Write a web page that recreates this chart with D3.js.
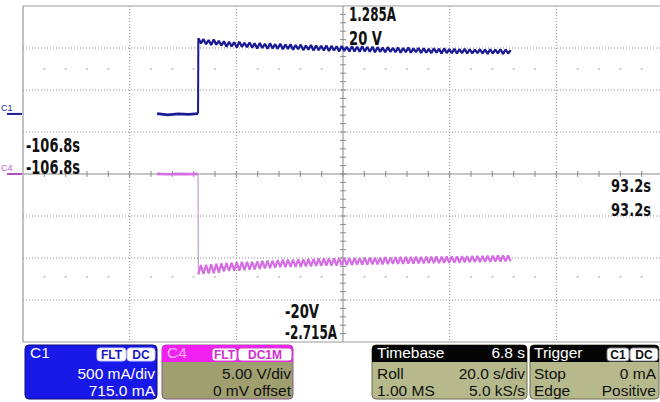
<!DOCTYPE html>
<html>
<head>
<meta charset="utf-8">
<script src="https://cdn.jsdelivr.net/npm/d3@7"></script>
<style>
  html, body { margin: 0; padding: 0; background: #fff; }
  svg { display: block; }
  .big { font-family: "Liberation Sans Narrow", "DejaVu Sans Condensed", "Liberation Sans", sans-serif; font-weight: bold; font-size: 19px; fill: #111; }
  .panel { font-family: "Liberation Sans", Arial, sans-serif; font-size: 15.5px; }
  .badge { font-family: "Liberation Sans", Arial, sans-serif; font-size: 12px; font-weight: bold; }
</style>
</head>
<body>
<svg id="scope" width="660" height="402"></svg>
<script>
// Acquisition window and channel ranges
const timeRange = [-106.8, 93.2];   // s, left edge to right edge
const c1Range = [-2.715, 1.285];    // A, bottom to top (500 mA/div, 715 mA offset)
const c4Range = [-20, 20];          // V, bottom to top (5 V/div)
const sampleStep = 0.8;             // s between stored samples after the step
const stepStart = -52.0;            // s, first sample after the step

// C1 current before the step (A)
const c1PreTimes  = [-64.9, -61.6, -58.3, -55.1, -52.1];
const c1PreValues = [0.005, -0.01, 0.0, -0.006, 0.004];

// C1 current after the step (A), one value per sample
const c1Values = [
  0.90, 0.84, 0.89, 0.83, 0.88, 0.82, 0.885, 0.825, 0.87, 0.815,
  0.865, 0.80, 0.86, 0.805, 0.855, 0.79, 0.86, 0.80, 0.845, 0.795,
  0.85, 0.79, 0.84, 0.78, 0.845, 0.785, 0.835, 0.775, 0.84, 0.78,
  0.83, 0.775, 0.835, 0.77, 0.825, 0.775, 0.83, 0.765, 0.82, 0.77,
  0.825, 0.76, 0.815, 0.765, 0.82, 0.755, 0.815, 0.76, 0.81, 0.755,
  0.815, 0.75, 0.81, 0.755, 0.805, 0.745, 0.81, 0.75, 0.80, 0.745,
  0.805, 0.745, 0.80, 0.74, 0.805, 0.745, 0.795, 0.74, 0.80, 0.735,
  0.795, 0.74, 0.79, 0.735, 0.795, 0.74, 0.785, 0.735, 0.79, 0.73,
  0.785, 0.735, 0.79, 0.73, 0.78, 0.735, 0.785, 0.725, 0.78, 0.73,
  0.775, 0.725, 0.78, 0.73, 0.775, 0.72, 0.78, 0.725, 0.77, 0.725,
  0.775, 0.72, 0.77, 0.725, 0.775, 0.72, 0.77, 0.72, 0.765, 0.725,
  0.77, 0.72, 0.765, 0.715, 0.77, 0.72, 0.765, 0.72, 0.77, 0.715,
  0.765, 0.72, 0.76
];

// C4 voltage before the step (V)
const c4PreTimes  = [-64.9, -61.6, -58.3, -55.1, -52.1];
const c4PreValues = [0.02, -0.03, 0.02, -0.02, 0.0];

// C4 voltage after the step (V), one value per sample
const c4Values = [
  -11.95, -10.85, -11.9, -10.8, -11.85, -10.75, -11.8, -10.7, -11.75, -10.65,
  -11.6, -10.6, -11.55, -10.55, -11.5, -10.5, -11.5, -10.45, -11.45, -10.45,
  -11.4, -10.45, -11.35, -10.4, -11.3, -10.35, -11.25, -10.3, -11.2, -10.3,
  -11.15, -10.25, -11.1, -10.2, -11.1, -10.2, -11.05, -10.2, -11.05, -10.15,
  -11.05, -10.15, -11.0, -10.1, -11.0, -10.1, -10.95, -10.05, -10.95, -10.05,
  -10.92, -10.05, -10.9, -10.05, -10.9, -10.0, -10.85, -10.05, -10.85, -10.0,
  -10.85, -10.0, -10.8, -9.98, -10.8, -9.95, -10.8, -9.95, -10.75, -9.95,
  -10.75, -9.95, -10.75, -9.9, -10.72, -9.92, -10.7, -9.9, -10.7, -9.88,
  -10.7, -9.88, -10.68, -9.88, -10.66, -9.85, -10.65, -9.86, -10.64, -9.84,
  -10.62, -9.85, -10.62, -9.82, -10.6, -9.83, -10.58, -9.82, -10.58, -9.8,
  -10.55, -9.8, -10.55, -9.78, -10.52, -9.78, -10.5, -9.76, -10.5, -9.75,
  -10.48, -9.75, -10.46, -9.72, -10.45, -9.72, -10.44, -9.7, -10.42, -9.7,
  -10.4, -9.7, -10.38
];

// On-screen readouts
const c1EdgeLabels = ["1.285A", "-2.715A"];
const c4EdgeLabels = ["20 V", "-20V"];
const timeEdgeLabels = ["-106.8s", "93.2s"];

// Status panels below the graticule
const c1Panel = { title: "C1", badges: ["FLT", "DC"], rows: ["500 mA/div", "715.0 mA"] };
const c4Panel = { title: "C4", badges: ["FLT", "DC1M"], rows: ["5.00 V/div", "0 mV offset"] };
const timebasePanel = { title: "Timebase", value: "6.8 s", rows: [["Roll", "20.0 s/div"], ["1.00 MS", "5.0 kS/s"]] };
const triggerPanel = { title: "Trigger", badges: ["C1", "DC"], rows: [["Stop", "0 mA"], ["Edge", "Positive"]] };

// ---------------------------------------------------------------------------
const svg = d3.select("#scope");
const plot = { left: 23, right: 663, top: 6, bottom: 342 };
const xDivs = 6, yDivs = 8;

const x = d3.scaleLinear().domain(timeRange).range([plot.left, plot.right]);
const yC1 = d3.scaleLinear().domain(c1Range).range([plot.bottom, plot.top]);
const yC4 = d3.scaleLinear().domain(c4Range).range([plot.bottom, plot.top]);
const xDiv = d3.scaleLinear().domain([0, xDivs]).range([plot.left, plot.right]);
const yDiv = d3.scaleLinear().domain([0, yDivs]).range([plot.top, plot.bottom]);

const grid = svg.append("g");
const gridColor = "#8c8c8c";

// dotted graticule
d3.range(1, xDivs).forEach(i => {
  if (i === xDivs / 2) return;
  grid.append("line").attr("x1", xDiv(i)).attr("x2", xDiv(i))
    .attr("y1", plot.top).attr("y2", plot.bottom)
    .attr("stroke", gridColor).attr("stroke-width", 1).attr("stroke-dasharray", "1,2");
});
d3.range(1, yDivs).forEach(i => {
  if (i === yDivs / 2) return;
  grid.append("line").attr("x1", plot.left).attr("x2", 660)
    .attr("y1", yDiv(i)).attr("y2", yDiv(i))
    .attr("stroke", gridColor).attr("stroke-width", 1).attr("stroke-dasharray", "1,2");
});

// minor dash rows half a division above/below the outer lines
[1.5, 6.45].forEach(r => {
  d3.range(0, xDivs * 5 + 1).forEach(k => {
    if (k % 5 === 0) return;
    const px = xDiv(k / 5);
    grid.append("line").attr("x1", px - 1).attr("x2", px + 1)
      .attr("y1", yDiv(r)).attr("y2", yDiv(r))
      .attr("stroke", "#a0a0a0").attr("stroke-width", 1);
  });
});

// frame
grid.append("line").attr("x1", plot.left).attr("x2", 660).attr("y1", plot.top).attr("y2", plot.top)
  .attr("stroke", "#9a9a9a").attr("stroke-width", 1.2);
grid.append("line").attr("x1", plot.left).attr("x2", plot.left).attr("y1", plot.top).attr("y2", plot.bottom)
  .attr("stroke", "#9a9a9a").attr("stroke-width", 1.2);
grid.append("line").attr("x1", plot.left).attr("x2", 660).attr("y1", plot.bottom).attr("y2", plot.bottom)
  .attr("stroke", "#9a9a9a").attr("stroke-width", 1.2);

// centre axes with minor ticks
const cx = xDiv(xDivs / 2), cy = yDiv(yDivs / 2);
grid.append("line").attr("x1", plot.left).attr("x2", 660).attr("y1", cy).attr("y2", cy)
  .attr("stroke", "#8a8a8a").attr("stroke-width", 1);
grid.append("line").attr("x1", cx).attr("x2", cx).attr("y1", plot.top).attr("y2", plot.bottom)
  .attr("stroke", "#8a8a8a").attr("stroke-width", 1);
d3.range(1, xDivs * 5).forEach(k => {
  const px = xDiv(k / 5);
  grid.append("line").attr("x1", px).attr("x2", px).attr("y1", cy - 3).attr("y2", cy + 3)
    .attr("stroke", "#8a8a8a").attr("stroke-width", 1);
});
d3.range(1, yDivs * 5).forEach(k => {
  const py = yDiv(k / 5);
  grid.append("line").attr("x1", cx - 3).attr("x2", cx + 3).attr("y1", py).attr("y2", py)
    .attr("stroke", "#8a8a8a").attr("stroke-width", 1);
});

// ---------------------------------------------------------------------------
// traces
const c1Color = "#1a1a94", c4Color = "#d46ee2";
const c1Pre = c1PreTimes.map((t, i) => ({ t, v: c1PreValues[i] }));
const c1Post = c1Values.map((v, i) => ({ t: stepStart + i * sampleStep, v }));
const c4Pre = c4PreTimes.map((t, i) => ({ t, v: c4PreValues[i] }));
const c4Post = c4Values.map((v, i) => ({ t: stepStart + i * sampleStep, v }));

const lineC1 = d3.line().x(d => x(d.t)).y(d => yC1(d.v));
const lineC4 = d3.line().x(d => x(d.t)).y(d => yC4(d.v));

const traces = svg.append("g");
// C4 drop edge (thin) then the C4 trace
traces.append("path").attr("d", lineC4([c4Pre[c4Pre.length - 1], c4Post[0]]))
  .attr("fill", "none").attr("stroke", "#c79ad0").attr("stroke-width", 1.2);
traces.append("path").attr("d", lineC4(c4Pre))
  .attr("fill", "none").attr("stroke", c4Color).attr("stroke-width", 2.6);
traces.append("path").attr("d", lineC4(c4Post))
  .attr("fill", "none").attr("stroke", c4Color).attr("stroke-width", 2.2).attr("stroke-linejoin", "bevel");

traces.append("path").attr("d", lineC1(c1Pre))
  .attr("fill", "none").attr("stroke", c1Color).attr("stroke-width", 2.8);
traces.append("path").attr("d", lineC1([c1Pre[c1Pre.length - 1], c1Post[0]]))
  .attr("fill", "none").attr("stroke", c1Color).attr("stroke-width", 2);
traces.append("path").attr("d", lineC1(c1Post))
  .attr("fill", "none").attr("stroke", c1Color).attr("stroke-width", 2.3).attr("stroke-linejoin", "bevel");

// ground markers on the left edge
const marks = svg.append("g");
marks.append("line").attr("x1", 7).attr("x2", 22).attr("y1", yC1(0)).attr("y2", yC1(0))
  .attr("stroke", c1Color).attr("stroke-width", 2);
marks.append("text").attr("x", 1).attr("y", yC1(0) - 3)
  .attr("font-family", "Liberation Sans, sans-serif").attr("font-size", 9).attr("fill", "#2a2a9a").text("C1");
marks.append("line").attr("x1", 7).attr("x2", 22).attr("y1", yC4(0)).attr("y2", yC4(0))
  .attr("stroke", "#b050c0").attr("stroke-width", 2);
marks.append("text").attr("x", 1).attr("y", yC4(0) - 3)
  .attr("font-family", "Liberation Sans, sans-serif").attr("font-size", 9).attr("fill", "#c060d0").text("C4");

// ---------------------------------------------------------------------------
// range readouts
const labels = svg.append("g");
function big(txt, px, py, w, size) {
  labels.append("text").attr("class", "big").attr("x", px).attr("y", py)
    .style("font-size", (size || 19) + "px")
    .attr("textLength", w).attr("lengthAdjust", "spacingAndGlyphs").text(txt);
}
big(timeEdgeLabels[0], 26, 152, 54);
big(timeEdgeLabels[0], 26, 174, 54);
big(c1EdgeLabels[0], 349, 21, 47);
big(c4EdgeLabels[0], 349, 45, 33);
big(timeEdgeLabels[1], 611, 192, 40, 17.5);
big(timeEdgeLabels[1], 611, 216, 40, 17.5);
big(c4EdgeLabels[1], 285, 318, 34);
big(c1EdgeLabels[1], 285, 339, 52);

// ---------------------------------------------------------------------------
// status panels
const panels = svg.append("g");
const pTop = 345, pBottom = 399, headH = 17;
const row1Y = 379, row2Y = 396, headY = 358;

function badge(g, texts, x0, widths, fill, stroke, color) {
  let bx = x0;
  texts.forEach((t, i) => {
    g.append("rect").attr("x", bx).attr("y", pTop + 3).attr("width", widths[i]).attr("height", 13)
      .attr("rx", 3).attr("fill", fill).attr("stroke", stroke).attr("stroke-width", 1);
    g.append("text").attr("class", "badge").attr("x", bx + widths[i] / 2).attr("y", pTop + 14)
      .attr("text-anchor", "middle").attr("fill", color).text(t);
    bx += widths[i] + 1;
  });
}

// C1
{
  const g = panels.append("g");
  g.append("rect").attr("x", 25).attr("y", pTop).attr("width", 132).attr("height", pBottom - pTop)
    .attr("rx", 4).attr("fill", "#1818e8").attr("stroke", "#0a0a70").attr("stroke-width", 1);
  g.append("text").attr("class", "panel").attr("x", 30).attr("y", headY).attr("fill", "#fff").text(c1Panel.title);
  badge(g, c1Panel.badges, 97, [29, 28], "#fff", "#c8c8ff", "#1818c8");
  g.append("text").attr("class", "panel").attr("x", 155).attr("y", row1Y).attr("text-anchor", "end").attr("fill", "#fff").text(c1Panel.rows[0]);
  g.append("text").attr("class", "panel").attr("x", 155).attr("y", row2Y).attr("text-anchor", "end").attr("fill", "#fff").text(c1Panel.rows[1]);
}
// C4
{
  const g = panels.append("g");
  g.append("rect").attr("x", 162).attr("y", pTop).attr("width", 131).attr("height", pBottom - pTop)
    .attr("rx", 4).attr("fill", "#9f9f70").attr("stroke", "#8a5a8a").attr("stroke-width", 1);
  g.append("path").attr("d", `M162,${pTop + headH} V${pTop + 4} a4,4 0 0 1 4,-4 H289 a4,4 0 0 1 4,4 V${pTop + headH} Z`)
    .attr("fill", "#f020f0");
  g.append("text").attr("class", "panel").attr("x", 167).attr("y", headY).attr("fill", "#ffb4ff").text(c4Panel.title);
  badge(g, c4Panel.badges, 212, [25, 54], "#fff", "#d040d0", "#d030d0");
  g.append("text").attr("class", "panel").attr("x", 291).attr("y", row1Y).attr("text-anchor", "end").attr("fill", "#111").text(c4Panel.rows[0]);
  g.append("text").attr("class", "panel").attr("x", 291).attr("y", row2Y).attr("text-anchor", "end").attr("fill", "#111").text(c4Panel.rows[1]);
}
// Timebase and Trigger
function darkHeadPanel(px, w) {
  const g = panels.append("g");
  g.append("rect").attr("x", px).attr("y", pTop).attr("width", w).attr("height", pBottom - pTop)
    .attr("rx", 4).attr("fill", "#b6b98c").attr("stroke", "#6e6f55").attr("stroke-width", 1);
  g.append("path").attr("d", `M${px},${pTop + headH} V${pTop + 4} a4,4 0 0 1 4,-4 H${px + w - 4} a4,4 0 0 1 4,4 V${pTop + headH} Z`)
    .attr("fill", "#050505");
  return g;
}
{
  const g = darkHeadPanel(372, 155);
  g.append("text").attr("class", "panel").attr("x", 377).attr("y", headY).attr("fill", "#fff").text(timebasePanel.title);
  g.append("text").attr("class", "panel").attr("x", 525).attr("y", headY).attr("text-anchor", "end").attr("fill", "#fff").text(timebasePanel.value);
  timebasePanel.rows.forEach((r, i) => {
    const yy = i === 0 ? row1Y : row2Y;
    g.append("text").attr("class", "panel").attr("x", 377).attr("y", yy).attr("fill", "#111").text(r[0]);
    g.append("text").attr("class", "panel").attr("x", 525).attr("y", yy).attr("text-anchor", "end").attr("fill", "#111").text(r[1]);
  });
}
{
  const g = darkHeadPanel(530, 129);
  g.append("text").attr("class", "panel").attr("x", 534).attr("y", headY).attr("fill", "#fff").text(triggerPanel.title);
  badge(g, triggerPanel.badges, 607, [22, 28], "#fff", "#888", "#111");
  triggerPanel.rows.forEach((r, i) => {
    const yy = i === 0 ? row1Y : row2Y;
    g.append("text").attr("class", "panel").attr("x", 534).attr("y", yy).attr("fill", "#111").text(r[0]);
    g.append("text").attr("class", "panel").attr("x", 656).attr("y", yy).attr("text-anchor", "end").attr("fill", "#111").text(r[1]);
  });
}
</script>
</body>
</html>
